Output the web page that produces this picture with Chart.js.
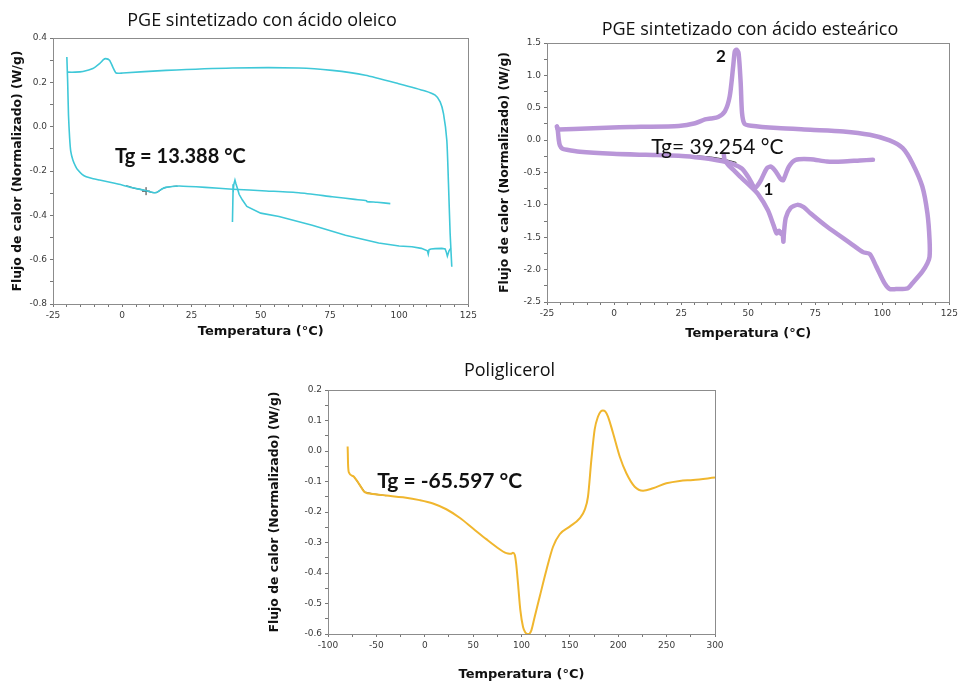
<!DOCTYPE html>
<html>
<head>
<meta charset="utf-8">
<script src="https://cdn.jsdelivr.net/npm/chart.js@4.4.1/dist/chart.umd.min.js"></script>
<style>
  body { margin: 0; background: #fff; width: 961px; height: 681px; position: relative; overflow: hidden; }
  canvas { position: absolute; }
</style>
</head>
<body>
<canvas id="oleic" width="480" height="345" style="left:0;top:0"></canvas>
<canvas id="estearico" width="481" height="345" style="left:480px;top:0"></canvas>
<canvas id="poliglicerol" width="470" height="331" style="left:260px;top:350px"></canvas>
<script>
// DSC thermograms: heat flow (W/g) against temperature (°C)

// PGE with oleic acid
const oleicHeat1T = [-19.9, -19.6, -17, -14.2, -10.6, -8.2, -6.8, -6.0, -4.6, -3.4, -2.2, 0.2, 15.8, 39.8, 63.8, 75.8, 87.8, 99.8, 109.4, 113.0, 114.8, 116.0, 117.2, 117.8, 118.4, 119.0];
const oleicHeat1Q = [0.247, 0.246, 0.246, 0.249, 0.262, 0.284, 0.302, 0.307, 0.30, 0.269, 0.242, 0.242, 0.254, 0.265, 0.265, 0.254, 0.232, 0.194, 0.161, 0.142, 0.112, 0.059, -0.061, -0.256, -0.482, -0.632];
const oleicCoolT = [118.6, 118.0, 117.4, 117.0, 116.6, 115.4, 113, 111.5, 110.8, 110.5, 110.2, 108, 104.6, 100, 92.6, 80.6, 68.6, 56.6, 50, 45, 43.4, 42.2, 41.6, 41.0, 40.7, 40.3, 40.0, 39.8];
const oleicCoolQ = [-0.549, -0.56, -0.584, -0.565, -0.552, -0.549, -0.55, -0.552, -0.555, -0.575, -0.56, -0.549, -0.542, -0.538, -0.525, -0.49, -0.445, -0.405, -0.39, -0.36, -0.331, -0.305, -0.279, -0.255, -0.241, -0.26, -0.30, -0.43];
const oleicHeat2T = [-20.0, -19.7, -19.4, -19.0, -18.6, -17.8, -16.8, -16.0, -14.5, -13.0, -10.5, -8.2, -4, 0.2, 3.8, 6.5, 8.6, 10.3, 11.6, 12.6, 13.4, 14.5, 15.8, 18, 20.6, 30, 39.8, 52, 63.8, 75.8, 84, 88.2, 88.4, 92, 96.8];
const oleicHeat2Q = [0.314, 0.2, 0.05, -0.05, -0.11, -0.151, -0.18, -0.196, -0.215, -0.226, -0.235, -0.241, -0.252, -0.264, -0.276, -0.283, -0.289, -0.295, -0.298, -0.296, -0.289, -0.28, -0.274, -0.27, -0.268, -0.274, -0.282, -0.29, -0.298, -0.316, -0.328, -0.334, -0.338, -0.341, -0.347];
const oleicTangentT = [1.4, 3.8, 6.5, 8.6, 10.3, 11.6, 12.6, 13.4, 14.5, 15.8, 18, 20.0];
const oleicTangentQ = [-0.266, -0.276, -0.283, -0.289, -0.295, -0.298, -0.296, -0.289, -0.28, -0.274, -0.27, -0.268];
const oleicTgT = [8.6];
const oleicTgQ = [-0.291];

// PGE with stearic acid
const stearicLoopT = [-21.3, -21.0, -20.5, -15, -0.5, 10, 24.1, 30.2, 33.9, 36, 38.8, 41.3, 43.1, 44.4, 45.0, 45.6, 46.4, 47.2, 47.7, 48.6, 51.1, 60.9, 73.2, 85.5, 95.3, 102.7, 107.6, 111.2, 114.9, 116.8, 117.6, 117.6, 116.8, 114.9, 111.2, 109.4, 105.1, 102.7, 100.8, 97.7, 95.3, 92.8, 88, 79.3, 73.2, 70.7, 68.3, 65.8, 64.0, 63.3, 63.1, 62.8, 62.2, 61.5, 60.6, 59.5, 57.3, 53.6, 50.5, 47.4, 44.5, 42.5, 41.2, 40.9];
const stearicLoopQ = [0.21, 0.17, 0.165, 0.17, 0.196, 0.205, 0.22, 0.26, 0.32, 0.335, 0.356, 0.443, 0.675, 1.14, 1.37, 1.397, 1.345, 0.88, 0.418, 0.253, 0.222, 0.186, 0.16, 0.134, 0.082, -0.005, -0.124, -0.356, -0.716, -1.13, -1.54, -1.80, -1.90, -2.03, -2.21, -2.29, -2.30, -2.30, -2.21, -1.95, -1.76, -1.73, -1.59, -1.335, -1.13, -1.036, -1.0, -1.05, -1.2, -1.45, -1.57, -1.42, -1.45, -1.40, -1.44, -1.32, -1.08, -0.83, -0.70, -0.58, -0.46, -0.38, -0.30, -0.22];
const stearicHeat2T = [-21.3, -21.0, -20.6, -20.2, -19.3, -17.6, -12.7, -0.5, 11.8, 24.1, 30.2, 36.4, 42.5, 47.4, 49.9, 51.5, 52.5, 53.5, 54.8, 57.0, 58.5, 60.3, 62.1, 63.0, 63.4, 65.2, 67.7, 73.2, 79.3, 85.5, 91.6, 96.5];
const stearicHeat2Q = [0.21, 0.16, 0.0, -0.08, -0.13, -0.15, -0.18, -0.21, -0.227, -0.242, -0.263, -0.294, -0.345, -0.433, -0.562, -0.68, -0.742, -0.70, -0.613, -0.433, -0.41, -0.485, -0.603, -0.62, -0.588, -0.407, -0.304, -0.294, -0.33, -0.33, -0.314, -0.304];
const stearicTangentT = [30.8, 36, 41, 45.6];
const stearicTangentQ = [-0.242, -0.26, -0.295, -0.345];

// Polyglycerol
const polyT = [-79.7, -79.5, -79.3, -78.3, -74.2, -70.7, -67.3, -62.1, -53.5, -39.7, -22.5, -5.3, 8.5, 22.3, 36.1, 49.9, 63.6, 77.4, 83, 86, 89, 91.2, 93, 94.5, 96.4, 98.8, 101.6, 104, 106.7, 108.5, 110.2, 113.6, 118.8, 125.7, 132.6, 139.5, 149.8, 160.1, 165.3, 168.7, 172.2, 175.6, 179.1, 182, 184.2, 186.5, 189.4, 194.6, 201.5, 208.4, 217, 225.6, 235.9, 249.7, 263.5, 277.3, 300];
const polyQ = [0.015, -0.01, -0.04, -0.071, -0.082, -0.095, -0.111, -0.135, -0.141, -0.146, -0.152, -0.161, -0.172, -0.191, -0.219, -0.254, -0.289, -0.322, -0.333, -0.336, -0.337, -0.334, -0.34, -0.37, -0.435, -0.522, -0.577, -0.595, -0.601, -0.598, -0.588, -0.544, -0.478, -0.391, -0.314, -0.273, -0.248, -0.221, -0.193, -0.15, -0.029, 0.07, 0.113, 0.13, 0.133, 0.13, 0.113, 0.059, -0.018, -0.073, -0.117, -0.13, -0.122, -0.106, -0.098, -0.095, -0.087];
const polyTangentT = [-72.4, -70.7, -67.3, -62.1, -53.5, -39.7];
const polyTangentQ = [-0.088, -0.095, -0.111, -0.135, -0.141, -0.146];

function pts(ts, qs) {
  return ts.map((t, i) => ({ x: t, y: qs[i] }));
}

// frame around the plot area
const framePlugin = {
  id: 'frame',
  afterDatasetsDraw(chart) {
    const { ctx, chartArea: a } = chart;
    ctx.save();
    ctx.strokeStyle = '#8c8c8c';
    ctx.lineWidth = 1;
    ctx.strokeRect(Math.round(a.left) + 0.5, Math.round(a.top) + 0.5, Math.round(a.right - a.left), Math.round(a.bottom - a.top));
    ctx.restore();
  }
};

// heading and Tg / peak notes
const notesPlugin = {
  id: 'notes',
  afterDraw(chart, args, opts) {
    const { ctx, scales } = chart;
    ctx.save();
    ctx.fillStyle = '#111';
    ctx.textAlign = 'center';
    ctx.textBaseline = 'middle';
    if (opts.heading) {
      ctx.font = '18px "Open Sans"';
      ctx.fillText(opts.heading.text, opts.heading.cx, opts.heading.cy);
    }
    (opts.items || []).forEach(n => {
      ctx.font = n.font;
      ctx.fillText(n.text, scales.x.getPixelForValue(n.x), scales.y.getPixelForValue(n.y));
    });
    ctx.restore();
  }
};

function tickLabels(every, digits) {
  return (value, index) => {
    if (index % every !== 0) return '';
    const v = Math.abs(value) < 1e-9 ? 0 : value;
    return v.toFixed(digits);
  };
}

function makeChart(id, cfg) {
  const tickFont = { family: 'DejaVu Sans', size: 9 };
  const xTitleFont = { family: 'DejaVu Sans', size: 13, weight: 'bold', lineHeight: cfg.xTitleLine };
  const yTitleFont = { family: 'DejaVu Sans', size: 12.4, weight: 'bold' };
  new Chart(document.getElementById(id), {
    type: 'line',
    data: { datasets: cfg.datasets },
    options: {
      responsive: false,
      animation: false,
      layout: { padding: { top: cfg.top, right: cfg.right, left: 0, bottom: 0 } },
      elements: { point: { radius: 0 } },
      plugins: {
        legend: { display: false },
        tooltip: { enabled: false },
        notes: { heading: cfg.heading, items: cfg.notes }
      },
      scales: {
        x: {
          type: 'linear',
          min: cfg.xMin, max: cfg.xMax,
          afterFit(scale) { scale.height = cfg.xAxisHeight; },
          ticks: { stepSize: cfg.xStep, autoSkip: false, maxRotation: 0, color: '#3a3a3a', font: tickFont, padding: 3,
                   callback: tickLabels(cfg.xEvery, 0) },
          grid: { drawOnChartArea: false, tickLength: 3, color: '#777' },
          border: { color: '#8c8c8c' },
          title: { display: true, text: 'Temperatura (°C)', color: '#111',
                   font: xTitleFont, padding: { top: 0, bottom: cfg.xTitlePad } }
        },
        y: {
          type: 'linear',
          min: cfg.yMin, max: cfg.yMax,
          afterFit(scale) { scale.width = cfg.yAxisWidth; },
          ticks: { stepSize: cfg.yStep, autoSkip: false, color: '#3a3a3a', font: tickFont, padding: 3,
                   callback: tickLabels(cfg.yEvery, 1) },
          grid: { drawOnChartArea: false, tickLength: 3, color: '#777' },
          border: { color: '#8c8c8c' },
          title: { display: true, text: 'Flujo de calor (Normalizado) (W/g)', color: '#111',
                   font: yTitleFont, padding: { top: cfg.yTitlePad, bottom: 0 } }
        }
      }
    },
    plugins: [framePlugin, notesPlugin]
  });
}

const cyan = '#3fc8d8';
const lavender = '#b996d8';
const amber = '#f0b62e';

makeChart('oleic', {
  top: 38, right: 10, xAxisHeight: 41, yAxisWidth: 53, xTitlePad: 6, xTitleLine: 1.2, yTitlePad: 10,
  xMin: -25, xMax: 125, xStep: 5, xEvery: 5,
  yMin: -0.8, yMax: 0.4, yStep: 0.1, yEvery: 2,
  heading: { text: 'PGE sintetizado con ácido oleico', cx: 262, cy: 21 },
  notes: [{ x: 21, y: -0.133, text: 'Tg = 13.388 °C', font: 'bold 20px Lato' }],
  datasets: [
    { data: pts(oleicHeat1T, oleicHeat1Q), borderColor: cyan, borderWidth: 1.6, tension: 0.2 },
    { data: pts(oleicCoolT, oleicCoolQ), borderColor: cyan, borderWidth: 1.6, tension: 0 },
    { data: pts(oleicHeat2T, oleicHeat2Q), borderColor: cyan, borderWidth: 1.6, tension: 0.2 },
    { data: pts(oleicTangentT, oleicTangentQ), borderColor: 'rgba(40,80,85,0.75)', borderWidth: 1.2, tension: 0.2 },
    { data: pts(oleicTgT, oleicTgQ), showLine: false, pointStyle: 'cross', pointRadius: 4,
      pointBorderColor: '#333', pointBorderWidth: 1 }
  ]
});

makeChart('estearico', {
  top: 43, right: 7, xAxisHeight: 43, yAxisWidth: 67, xTitlePad: 4, xTitleLine: 1.2, yTitlePad: 17,
  xMin: -25, xMax: 125, xStep: 5, xEvery: 5,
  yMin: -2.5, yMax: 1.5, yStep: 0.25, yEvery: 2,
  heading: { text: 'PGE sintetizado con ácido esteárico', cx: 270, cy: 30 },
  notes: [
    { x: 38.5, y: -0.103, text: 'Tg= 39.254 °C', font: '21px Lato' },
    { x: 39.8, y: 1.29, text: '2', font: 'bold 17px Lato' },
    { x: 57.5, y: -0.77, text: '1', font: 'bold 17px Lato' }
  ],
  datasets: [
    { data: pts(stearicLoopT, stearicLoopQ), borderColor: lavender, borderWidth: 4.5, tension: 0.25, borderJoinStyle: 'round', borderCapStyle: 'round' },
    { data: pts(stearicHeat2T, stearicHeat2Q), borderColor: lavender, borderWidth: 4.5, tension: 0.25, borderJoinStyle: 'round', borderCapStyle: 'round' },
    { data: pts(stearicTangentT, stearicTangentQ), borderColor: '#333', borderWidth: 1, tension: 0.3 }
  ]
});

makeChart('poliglicerol', {
  top: 40, right: 15, xAxisHeight: 47, yAxisWidth: 68, xTitlePad: 0, xTitleLine: 1.0, yTitlePad: 7,
  xMin: -100, xMax: 300, xStep: 25, xEvery: 2,
  yMin: -0.6, yMax: 0.2, yStep: 0.05, yEvery: 2,
  heading: { text: 'Poliglicerol', cx: 249.5, cy: 20.7 },
  notes: [{ x: 25.8, y: -0.10, text: 'Tg = -65.597 °C', font: 'bold 21px Lato' }],
  datasets: [
    { data: pts(polyT, polyQ), borderColor: amber, borderWidth: 2, cubicInterpolationMode: 'monotone' },
    { data: pts(polyTangentT, polyTangentQ), borderColor: 'rgba(70,60,20,0.8)', borderWidth: 1.3, tension: 0 }
  ]
});
</script>
</body>
</html>
